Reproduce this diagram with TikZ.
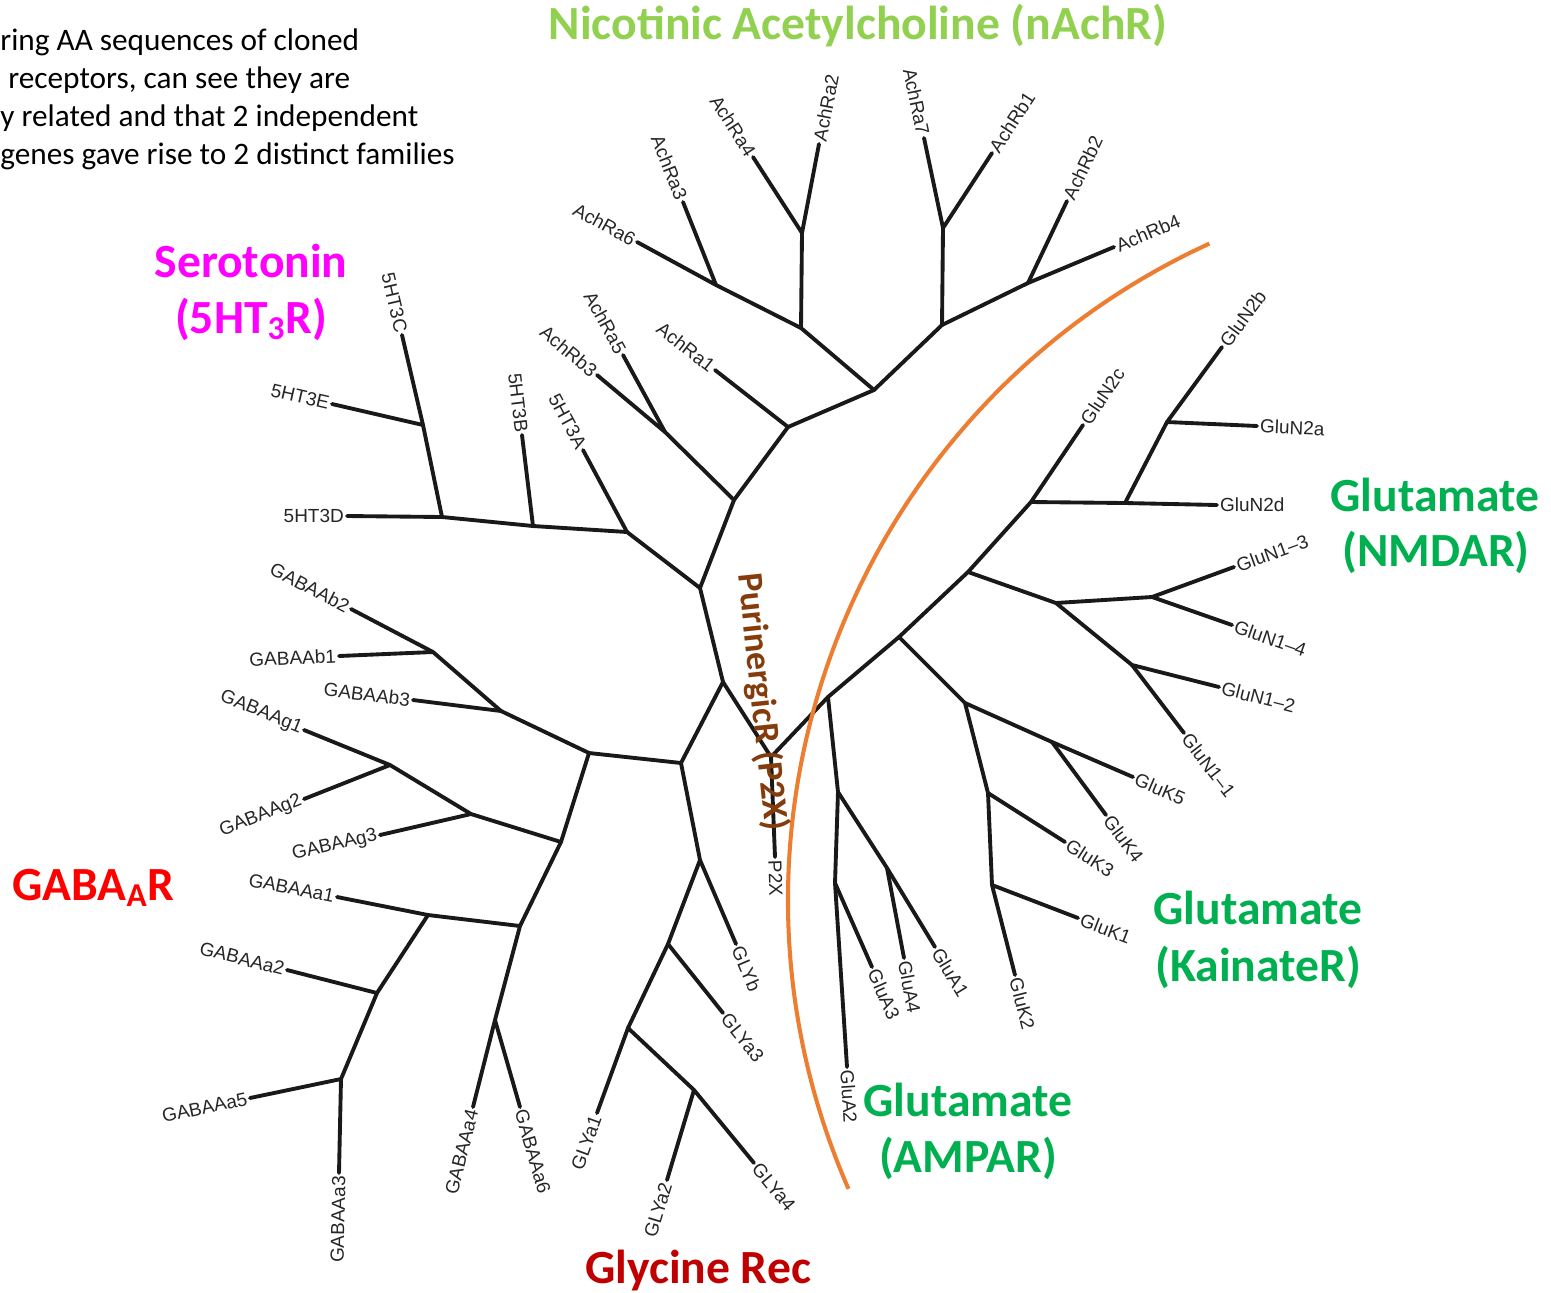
\documentclass[tikz,border=0pt]{standalone}
\usepackage{fontspec}
\setmainfont{Carlito}
\newfontfamily\labfont{Liberation Sans}
\newfontfamily\headfont{Carlito}
\definecolor{achgreen}{HTML}{92D050}
\definecolor{serocol}{HTML}{FF00FF}
\definecolor{gabacol}{HTML}{FF0000}
\definecolor{glycol}{HTML}{C00000}
\definecolor{glucol}{HTML}{00B050}
\definecolor{purcol}{HTML}{843C0C}
\definecolor{arccol}{HTML}{ED7D31}
\begin{document}
\begin{tikzpicture}[x=0.02cm,y=0.02cm,
  br/.style={line width=2.2pt,line cap=round,line join=round,draw=black!90},
  lab/.style={font=\labfont\fontsize{10.8}{12}\selectfont,text=black!85,inner sep=1.6pt},
  head/.style={font=\headfont\bfseries\fontsize{27.1}{32}\selectfont,inner sep=0pt,anchor=base},
  note/.style={font=\headfont\fontsize{17.8}{21}\selectfont,inner sep=0pt,anchor=base west},
  divider/.style={draw=arccol,line width=2.3pt}]
\useasboundingbox (0,0) rectangle (1551,-1292);
\fill[white] (0,0) rectangle (1551,-1292);

% explanatory text, top left
\node[note] (n1) at (0,-50) {ring AA sequences of cloned};
\node[note] (n2) at (8,-88) {receptors, can see they are};
\node[note] (n3) at (0,-126) {y related and that 2 independent};
\node[note] (n4) at (0,-164) {genes gave rise to 2 distinct families};

% internal branch points of the tree
\foreach \n/\x/\y in {
  nF/700/588, nE/734/500, nD/788/427, nB/874/390, nA/801/328, na63/716/285,
  na42/802/233, nC/942/325, na71/943/228, nb24/1028/283, na5b3/665/432,
  nG/627/532, nH/533/526, nI/442/517, nJ/423/425,
  nK/723/682, nL/681/763, nM/771/757, nN/828/697, nKai/899/637, nN1/968/572,
  nN2c/1031/502, nN2d/1125/503, nN2ab/1167/422, nN1a/1056/603, nN1b/1152/597,
  nN1c/1132/665, nK1/965/703, nK45/1052/742, nK3/988/793, nK12/992/885,
  nA1/838/792, nA14/887/868, nA23/835/883,
  nO/589/753, nQ/501/711, nR/433/652, nS/561/842, nU/471/814, nT/390/765,
  nV/520/926, nX/428/915, nY/377/993, nZ/341/1079, nAA/495/1020,
  nP/700/860, ng1/668/944, ng2/628/1028, ng3/694/1090}
  \coordinate (\n) at (\x,-\y);

% internal branches
\foreach \a/\b in {nF/nE, nE/nD, nD/nB, nB/nA, nA/na63, nA/na42, nB/nC, nC/na71,
  nC/nb24, nE/na5b3, nF/nG, nG/nH, nH/nI, nI/nJ, nF/nK, nK/nL, nK/nM, nM/nN,
  nN/nKai, nKai/nN1, nN1/nN2c, nN2c/nN2d, nN2d/nN2ab, nN1/nN1a, nN1a/nN1b,
  nN1a/nN1c, nKai/nK1, nK1/nK45, nK1/nK3, nK3/nK12, nN/nA1, nA1/nA14, nA1/nA23,
  nL/nO, nO/nQ, nQ/nR, nO/nS, nS/nU, nU/nT, nS/nV, nV/nX, nX/nY, nY/nZ, nV/nAA,
  nL/nP, nP/ng1, ng1/ng2, ng2/ng3}
  \draw[br] (\a) -- (\b);

% leaves: name / parent / x / y / rotation / anchor / label
\foreach \n/\pa/\x/\y/\rt/\an/\tx in {
  Ra6/na63/637/242/-28.6/east/AchRa6,
  Ra3/na63/683/202/-68.3/east/AchRa3,
  Ra4/na42/753/157/-57.2/east/AchRa4,
  Ra2/na42/819/144/79/west/AchRa2,
  Ra7/na71/924/138/-78.1/east/AchRa7,
  Rb1/na71/992/153/57/west/AchRb1,
  Rb2/nb24/1067/201/64.6/west/AchRb2,
  Rb4/nb24/1114/247/22.7/west/AchRb4,
  Ra1/nD/715/370/-38/east/AchRa1,
  Ra5/na5b3/623/355/-61.4/east/AchRa5,
  Rb3/na5b3/597/375/-40/east/AchRb3,
  HTA/nG/583/450/-61.8/east/5HT3A,
  HTB/nH/522/435/-83.1/east/5HT3B,
  HTD/nI/347/516/0/east/5HT3D,
  HTE/nJ/332/404/-13/east/5HT3E,
  HTC/nJ/402/335/-76.9/east/5HT3C,
  Bb2/nR/351/609/-27.7/east/GABAAb2,
  Bb1/nR/339/656/2.4/east/GABAAb1,
  Bb3/nQ/413/700/-7.1/east/GABAAb3,
  Bg1/nT/304/730/-22.1/east/GABAAg1,
  Bg2/nT/304/799/21.6/east/GABAAg2,
  Bg3/nU/380/835/13/east/GABAAg3,
  Ba1/nX/337/897/-11.2/east/GABAAa1,
  Ba2/nY/287/970/-14.3/east/GABAAa2,
  Ba5/nZ/250/1098/11.8/east/GABAAa5,
  Ba3/nZ/339/1173/88.8/east/GABAAa3,
  Ba4/nAA/473/1107/75.8/east/GABAAa4,
  Ba6/nAA/520/1107/-74/west/GABAAa6,
  Yb/nP/736/944/-66.8/west/GLYb,
  Ya3/ng1/723/1013/-51.4/west/GLYa3,
  Ya1/ng2/597/1113/70/east/GLYa1,
  Ya2/ng3/667/1180/73.3/east/GLYa2,
  Ya4/ng3/754/1163/-50.6/west/GLYa4,
  PX/nM/775/857/-88.3/west/P2X,
  A2/nA23/847/1067/-86.3/west/GluA2,
  A3/nA23/872/967/-66.2/west/GluA3,
  A4/nA14/904/958/-79.3/west/GluA4,
  A1/nA14/935/947/-58.7/west/GluA1,
  K2/nK12/1015/975/-75.7/west/GluK2,
  K1/nK12/1078/918/-21/west/GluK1,
  K3/nK3/1065/842/-32.5/west/GluK3,
  K4/nK45/1106/815/-53.5/west/GluK4,
  K5/nK45/1133/777/-23.4/west/GluK5,
  N11/nN1c/1184/733/-52.6/west/GluN1\textendash1,
  N12/nN1c/1219/687/-14.2/west/GluN1\textendash2,
  N14/nN1b/1232/625/-19.3/west/GluN1\textendash4,
  N13/nN1b/1234/567/20/west/GluN1\textendash3,
  N2d/nN2d/1217/505/0/west/GluN2d,
  N2a/nN2ab/1257/426/-2.5/west/GluN2a,
  N2b/nN2ab/1222/347/53.7/west/GluN2b,
  N2c/nN2c/1083/425/56/west/GluN2c}
  {
   \coordinate (l\n) at (\x,-\y);
   \draw[br] (\pa) -- (l\n);
   \node[lab,rotate=\rt,anchor=\an] (t\n) at (l\n) {\tx};
  }

% boundary between the two receptor families
\draw[divider] (1510,-900) ++(114.6:722) arc[start angle=114.6,end angle=203.6,radius=14.44cm];

% family headings
\node[head,text=achgreen] (hach) at (858,-39) {Nicotinic Acetylcholine (nAchR)};
\node[head,text=serocol] (hser1) at (251,-277) {Serotonin};
\node[head,text=serocol] (hser2) at (251,-333) {(5HT\textsubscript{3}R)};
\node[head,text=gabacol,anchor=base west] (hgaba) at (12,-900) {GABA\textsubscript{A}R};
\node[head,text=glycol] (hgly) at (698,-1283) {Glycine Rec};
\node[head,text=glucol] (hnm1) at (1435,-511) {Glutamate};
\node[head,text=glucol] (hnm2) at (1436,-566) {(NMDAR)};
\node[head,text=glucol] (hka1) at (1258,-924) {Glutamate};
\node[head,text=glucol] (hka2) at (1258,-981) {(KainateR)};
\node[head,text=glucol] (ham1) at (968,-1116) {Glutamate};
\node[head,text=glucol] (ham2) at (968,-1172) {(AMPAR)};
\node[font=\headfont\bfseries\fontsize{20.4}{24}\selectfont,text=purcol,rotate=-84,inner sep=0pt]
  (hpur) at (762,-702) {PurinergicR (P2X)};
\end{tikzpicture}
\end{document}
